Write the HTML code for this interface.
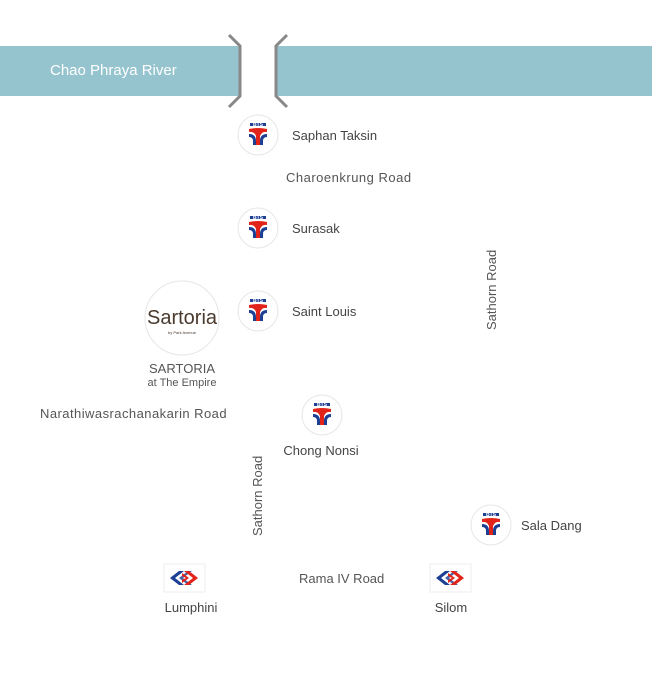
<!DOCTYPE html>
<html><head><style>
body{margin:0;background:#fff;}
svg text{font-family:"Liberation Sans",sans-serif;}
</style></head><body>
<svg width="652" height="682" viewBox="0 0 652 682" xmlns="http://www.w3.org/2000/svg">
<defs>
<g id="bts">
<circle r="20" fill="#fff" stroke="#e6e6e6" stroke-width="1"/>
<rect x="-8" y="-12" width="16" height="3" fill="#1c3f94"/>
<text x="0" y="-9" font-size="5" text-anchor="middle" fill="#fff" font-weight="bold">BTS</text>
<path d="M-9,-6 Q0,-8 9,-6 L9,-3 Q4,-4 2,1 L2,10 L-2,10 L-2,1 Q-4,-4 -9,-3Z" fill="#e2231a"/>
<path d="M-9,-1 Q-2,-1 -2,6 L-2,10 L-5,10 L-5,6 Q-5,2 -9,2Z M9,-1 Q2,-1 2,6 L2,10 L5,10 L5,6 Q5,2 9,2Z" fill="#1c3f94"/>
</g>
<g id="mrt">
<rect x="-20" y="-14" width="41" height="28" fill="#fff" stroke="#ececec"/>
<path d="M-14,0 L-5,-7 L0,-7 L-9,0 L0,7 L-5,7Z" fill="#1c3f94"/>
<path d="M-5,0 L4,-7 L8,-7 L-1,0 L8,7 L4,7Z" fill="#1c3f94" opacity="0.8"/>
<path d="M14,0 L5,-7 L0,-7 L9,0 L0,7 L5,7Z" fill="#e2231a"/>
<path d="M5,0 L-2,-5 L-2,-2 L2,0 L-2,2 L-2,5Z" fill="#e2231a"/>
</g>
</defs>
<rect x="0" y="46" width="240" height="50" fill="#95c4cf"/>
<rect x="276" y="46" width="376" height="50" fill="#95c4cf"/>
<path d="M229,35 L240,46 L240,96 L229,107" fill="none" stroke="#888" stroke-width="3"/>
<path d="M287,35 L276,46 L276,96 L287,107" fill="none" stroke="#888" stroke-width="3"/>
<text x="50" y="75" font-size="15" fill="#fff">Chao Phraya River</text>

<use href="#bts" x="258" y="135"/>
<text x="292" y="140" font-size="13" fill="#444">Saphan Taksin</text>
<text x="286" y="182" font-size="13" fill="#555" letter-spacing="0.5">Charoenkrung Road</text>
<use href="#bts" x="258" y="228"/>
<text x="292" y="233" font-size="13" fill="#444">Surasak</text>
<use href="#bts" x="258" y="311"/>
<text x="292" y="316" font-size="13" fill="#444">Saint Louis</text>
<text transform="translate(496,330) rotate(-90)" font-size="13" fill="#555">Sathorn Road</text>

<circle cx="182" cy="318" r="37" fill="#fff" stroke="#e6e6e6"/>
<text x="182" y="324" font-size="20" fill="#4a3a2e" text-anchor="middle" font-family="Liberation Serif,serif">Sartoria</text>
<text x="182" y="334" font-size="4" fill="#4a3a2e" text-anchor="middle">by Park Avenue</text>
<text x="182" y="373" font-size="13" fill="#555" text-anchor="middle">SARTORIA</text>
<text x="182" y="386" font-size="11" fill="#555" text-anchor="middle">at The Empire</text>

<text x="40" y="418" font-size="13" fill="#555" letter-spacing="0.45">Narathiwasrachanakarin Road</text>
<use href="#bts" x="322" y="415"/>
<text x="321" y="455" font-size="13" fill="#444" text-anchor="middle">Chong Nonsi</text>
<text transform="translate(262,536) rotate(-90)" font-size="13" fill="#555">Sathorn Road</text>
<use href="#bts" x="491" y="525"/>
<text x="521" y="530" font-size="13" fill="#444">Sala Dang</text>

<use href="#mrt" x="184" y="578"/>
<text x="191" y="612" font-size="13" fill="#444" text-anchor="middle">Lumphini</text>
<text x="299" y="583" font-size="13" fill="#555">Rama IV  Road</text>
<use href="#mrt" x="450" y="578"/>
<text x="451" y="612" font-size="13" fill="#444" text-anchor="middle">Silom</text>
</svg>
</body></html>
